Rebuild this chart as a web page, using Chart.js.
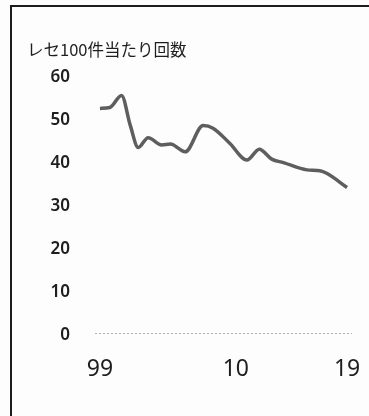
<!DOCTYPE html>
<html>
<head>
<meta charset="utf-8">
<script src="https://cdn.jsdelivr.net/npm/chart.js@4.4.1/dist/chart.umd.min.js"></script>
<style>
  html, body { margin: 0; padding: 0; background: #fff; }
  #wrap { position: relative; width: 369px; height: 416px; overflow: hidden; background: #fdfdfd; }
  #frame { position: absolute; left: 10px; top: 5px; right: -4px; bottom: -4px;
           border-top: 2px solid #1c1c1c; border-left: 2px solid #1c1c1c; pointer-events: none; }
  canvas { position: absolute; left: 0; top: 0; }
</style>
</head>
<body>
<div id="wrap">
  <canvas id="c" width="369" height="416"></canvas>
  <div id="frame"></div>
</div>
<script>
// Claims per 100 receipts, by year
const years  = [1999, 1999.8, 2000.75, 2001.45, 2002.1, 2002.9, 2004.0, 2004.7, 2005.9, 2007.35,
                2008.15, 2009.5, 2010.9, 2011.9, 2012.9, 2013.85, 2015.75, 2016.8, 2017.35, 2019];
const values = [52.7, 52.9, 55.7, 48.8, 43.6, 45.9, 44.2, 44.4, 42.6, 48.7,
                48.1, 44.6, 40.7, 43.2, 40.9, 40.1, 38.4, 38.2, 37.6, 34.3];
const xTickYears = [1999, 2010, 2019];
const yTicks = [0, 10, 20, 30, 40, 50, 60];
const titleText = 'レセ100件当たり回数';

const points = years.map((y, i) => ({ x: y, y: values[i] }));

new Chart(document.getElementById('c'), {
  type: 'line',
  data: {
    datasets: [{
      data: points,
      borderColor: '#5e5e5e',
      borderWidth: 3.5,
      pointRadius: 0,
      cubicInterpolationMode: 'monotone',
      fill: false
    }]
  },
  options: {
    responsive: false,
    animation: false,
    events: [],
    layout: { padding: { left: 27, right: 17, top: 0, bottom: 0 } },
    plugins: {
      legend: { display: false },
      tooltip: { enabled: false },
      title: {
        display: true,
        text: titleText,
        align: 'start',
        color: '#1e1e1e',
        font: { family: '"Noto Sans CJK JP", "Noto Sans", sans-serif', size: 16.5, weight: 'normal', lineHeight: 1.2 },
        padding: { top: 40.1, bottom: 17.1 }
      }
    },
    scales: {
      x: {
        type: 'linear',
        min: 1998.6,
        max: 2019.4,
        afterBuildTicks: s => { s.ticks = xTickYears.map(v => ({ value: v })); },
        afterFit: s => { s.height = 81; },
        // invisible tick marks keep the labels clear of the baseline
        grid: { display: true, drawOnChartArea: false, drawTicks: true, tickLength: 21, color: 'rgba(0,0,0,0)' },
        border: { display: false },
        ticks: {
          padding: 0,
          maxRotation: 0,
          autoSkip: false,
          color: '#1e1e1e',
          font: { family: '"Noto Sans", sans-serif', size: 23, weight: 'normal', lineHeight: 1.2 },
          callback: v => String(v).slice(2)
        }
      },
      y: {
        min: 0,
        max: 60,
        afterBuildTicks: s => { s.ticks = yTicks.map(v => ({ value: v })); },
        afterFit: s => { s.width = 68; },
        grid: { display: false, drawTicks: false },
        border: { display: false },
        ticks: {
          padding: 25,
          color: '#1e1e1e',
          font: { family: '"Noto Sans", sans-serif', size: 17, weight: '600' }
        }
      }
    }
  },
  plugins: [{
    id: 'zeroDots',
    beforeDatasetsDraw(chart) {
      // dotted baseline at zero
      const { ctx, chartArea, scales } = chart;
      const y0 = Math.round(scales.y.getPixelForValue(0)) - 1.5;
      ctx.save();
      ctx.strokeStyle = '#b0b0b0';
      ctx.lineWidth = 1;
      ctx.setLineDash([2, 2]);
      ctx.beginPath();
      ctx.moveTo(chartArea.left, y0);
      ctx.lineTo(chartArea.right, y0);
      ctx.stroke();
      ctx.restore();
    }
  }]
});
</script>
</body>
</html>
